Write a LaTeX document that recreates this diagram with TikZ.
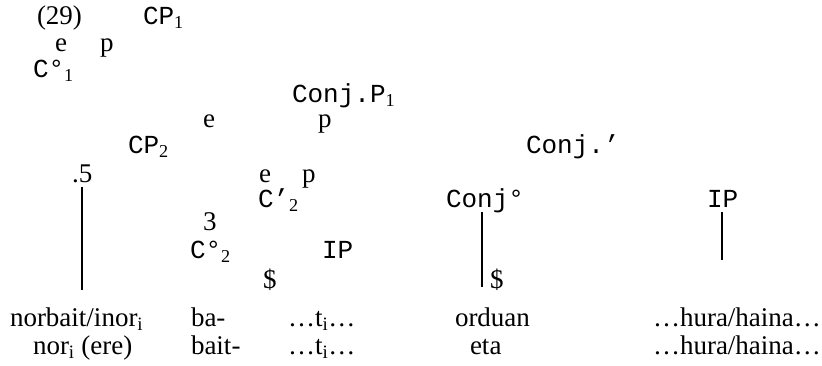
\documentclass[tikz,border=0pt]{standalone}
\usepackage{fontspec}
\setmainfont{Liberation Serif}
\setmonofont{Liberation Mono}
\newcommand{\subidx}[1]{\textsubscript{\rmfamily #1}}
\begin{document}
\begin{tikzpicture}[x=1bp, y=1bp, font=\fontsize{27bp}{32bp}\selectfont, every node/.style={inner sep=0pt, outer sep=0pt, anchor=west, text height=18bp, text depth=4.5bp}, cat/.style={font=\fontsize{26bp}{30bp}\selectfont\ttfamily}, branch/.style={line width=2bp}]
	\useasboundingbox (0,0) rectangle (822,-365);

	% CP1 level
	\node (num) at (37,-18) {(29)};
	\node[cat] (cp1) at (143,-18) {CP\subidx{1}};
	\node (e1) at (55,-45) {e};
	\node (p1) at (100,-45) {p};
	\node[cat] (c1) at (33,-71) {C°\subidx{1}};
	\node[cat] (conjp) at (292,-96) {Conj.P\subidx{1}};
	\node (e2) at (203,-121) {e};
	\node (p2) at (318,-121) {p};

	% CP2 and Conj'
	\node[cat] (cp2) at (128,-147) {CP\subidx{2}};
	\node[cat] (conjbar) at (526,-147) {Conj.’};
	\node (five) at (72,-176) {.5};
	\node (e3) at (259,-176) {e};
	\node (p3) at (302,-176) {p};
	\node[cat] (cbar) at (258,-201) {C’\subidx{2}};
	\node[cat] (conj) at (446,-201) {Conj°};
	\node[cat] (ipa) at (707,-201) {IP};
	\node (three) at (203,-224) {3};
	\node[cat] (c2) at (190,-252) {C°\subidx{2}};
	\node[cat] (ipb) at (322,-252) {IP};
	\node (dola) at (263,-282) {\$};
	\node (dolb) at (490,-282) {\$};

	% words
	\node (w1) at (10,-320) {norbait/inor\subidx{i}};
	\node (w2) at (191,-320) {ba-};
	\node (w3) at (288,-320) {…t\subidx{i}…};
	\node (w4) at (455,-320) {orduan};
	\node (w5) at (653,-320) {…hura/haina…};
	\node (v1) at (33,-348) {nor\subidx{i} (ere)};
	\node (v2) at (191,-348) {bait-};
	\node (v3) at (288,-348) {…t\subidx{i}…};
	\node (v4) at (470,-348) {eta};
	\node (v5) at (653,-348) {…hura/haina…};

	\coordinate (fivebot) at (82,-290);
	\coordinate (conjbot) at (482,-287);
	\coordinate (ipbot) at (722,-260);
	\draw[branch] (fivebot |- five.south) -- (fivebot);
	\draw[branch] (conjbot |- conj.south) -- (conjbot);
	\draw[branch] (ipbot |- ipa.south) -- (ipbot);
\end{tikzpicture}
\end{document}
